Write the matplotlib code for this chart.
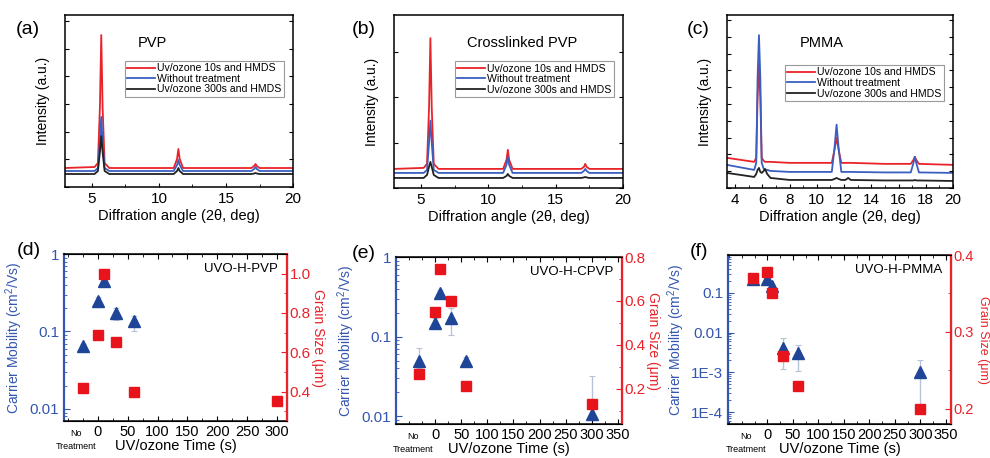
import matplotlib
matplotlib.use('Agg')
import matplotlib.pyplot as plt
from matplotlib.ticker import MultipleLocator, FixedLocator, FixedFormatter, NullFormatter, LogLocator
import numpy as np

plt.rcParams['font.family'] = ['Liberation Sans', 'DejaVu Sans']
plt.rcParams['mathtext.fontset'] = 'custom'
plt.rcParams['mathtext.rm'] = 'Liberation Sans'

# ---- XRD spectra (a.u.) ----
xrd_labels = ['Uv/ozone 10s and HMDS', 'Without treatment', 'Uv/ozone 300s and HMDS']
xrd_colors = ['#e8232a', '#3a5fc0', '#222222']

x_ab = [3, 5.2, 5.45, 5.6, 5.7, 5.8, 5.95, 6.3, 11.1, 11.35, 11.45, 11.55, 11.8,
        16.9, 17.1, 17.2, 17.3, 17.5, 20]
pvp_red = [19, 20, 24, 80, 152, 80, 24, 19, 19, 28, 38, 28, 19, 19, 21, 23, 21, 19, 19]
pvp_blue = [16, 16, 19, 45, 70, 45, 19, 16, 16, 22, 27, 22, 16, 16, 18, 20, 18, 16, 16]
pvp_black = [13, 13, 16, 35, 51, 35, 16, 13, 13, 16, 19, 16, 13, 13, 13.5, 14, 13.5, 13, 13]

cpvp_red = [19, 20, 24, 80, 149, 80, 24, 19, 19, 28, 38, 28, 19, 19, 21, 24, 21, 19, 19]
cpvp_blue = [15, 15, 18, 45, 67, 45, 18, 15, 15, 23, 31, 23, 15, 15, 17, 19, 17, 15, 15]
cpvp_black = [10, 10, 13, 21, 26, 21, 13, 10, 10, 12, 14, 12, 10, 10, 10.5, 11, 10.5, 10, 10]

x_c = [3.4, 5.4, 5.55, 5.65, 5.75, 5.85, 5.95, 6.1, 6.2, 6.35, 6.6, 8, 11.1, 11.3, 11.45,
       11.6, 11.8, 12.1, 12.3, 12.5, 15, 16.9, 17.1, 17.2, 17.3, 17.5, 20]
pmma_red = [30, 26, 30, 90, 123, 90, 30, 27, 26, 26, 26, 25, 25, 38, 50, 38, 25, 25, 25, 25,
            24, 24, 28, 31, 28, 24, 23]
pmma_blue = [23, 18, 25, 110, 152, 110, 25, 19, 18, 18, 17, 16, 16, 40, 63, 40, 16, 16, 16, 16,
             15.5, 15.5, 25, 31, 25, 15.5, 15]
pmma_black = [15, 11, 14, 18, 20, 16, 15, 17, 19, 14, 10, 8, 8, 9, 10, 9, 8, 8, 10, 8,
              7.5, 7.5, 7.5, 8, 7.5, 7.5, 7]

# ---- carrier mobility / grain size vs UV-ozone time ----
# "No Treatment" is drawn left of 0
t_d = [-25, 0, 10, 30, 60]
mob_d = [0.065, 0.25, 0.45, 0.175, 0.135]
mob_d_lo = [0.06, 0.22, 0.40, 0.14, 0.10]
mob_d_hi = [0.07, 0.28, 0.50, 0.20, 0.16]
gt_d = [-25, 0, 10, 30, 60, 300]
grain_d = [0.42, 0.69, 1.0, 0.65, 0.40, 0.35]

t_e = [-30, 0, 10, 30, 60, 300]
mob_e = [0.05, 0.15, 0.355, 0.17, 0.05, 0.0108]
mob_e_lo = [0.04, 0.13, 0.32, 0.105, 0.043, 0.009]
mob_e_hi = [0.072, 0.17, 0.39, 0.23, 0.055, 0.032]
gt_e = [-30, 0, 10, 30, 60, 300]
grain_e = [0.268, 0.55, 0.745, 0.60, 0.214, 0.13]

t_f = [-29, 0, 10, 30, 60, 300]
mob_f = [0.22, 0.22, 0.15, 0.004, 0.003, 0.001]
mob_f_lo = [0.17, 0.2, 0.12, 0.0012, 0.0011, 0.00015]
mob_f_hi = [0.28, 0.25, 0.17, 0.0075, 0.005, 0.002]
gt_f = [-29, 0, 10, 30, 60, 300]
grain_f = [0.37, 0.378, 0.35, 0.268, 0.23, 0.20]

BLUE_TXT = '#3556b0'
RED_TXT = '#e8232a'
TRI = '#1f4597'
SQ = '#e8141c'

fig = plt.figure(figsize=(9.9, 4.58), dpi=100)


def xrd_panel(rect, x, curves, letter, letter_x, title, xlim, xmaj, ystep, leg_top):
    ax = fig.add_axes(rect)
    for y, c, lab in zip(curves, xrd_colors, xrd_labels):
        ax.plot(x, y, color=c, lw=1.3, label=lab)
    ax.set_xlim(*xlim)
    ax.set_ylim(0, 172)
    ax.xaxis.set_major_locator(MultipleLocator(xmaj))
    ax.xaxis.set_minor_locator(MultipleLocator(xmaj / 2))
    ax.yaxis.set_major_locator(MultipleLocator(ystep))
    ax.yaxis.set_major_formatter(NullFormatter())
    ax.tick_params(axis='both', which='both', direction='in', labelsize=11)
    ax.tick_params(axis='y', which='both', left=True, right=True, length=3)
    ax.tick_params(axis='x', which='major', length=3)
    ax.tick_params(axis='x', which='minor', length=2)
    ax.set_xlabel('Diffration angle (2θ, deg)', fontsize=10.5, labelpad=2)
    ax.set_ylabel('Intensity (a.u.)', fontsize=10, labelpad=7)
    ax.text(letter_x, 0.965, letter, transform=ax.transAxes, fontsize=14, va='top', ha='left')
    ax.text(0.32, 0.84, title, transform=ax.transAxes, fontsize=10.5, va='center', ha='left')
    leg = ax.legend(loc='upper right', bbox_to_anchor=(0.96, leg_top), fontsize=7.6,
                    frameon=True, fancybox=False, edgecolor='#999999', framealpha=1,
                    handlelength=2.6, handletextpad=0.2, labelspacing=0.05,
                    borderpad=0.25, borderaxespad=0)
    leg.get_frame().set_linewidth(0.8)
    for s in ax.spines.values():
        s.set_linewidth(1.1)
    return ax


xrd_panel([0.0657, 0.5917, 0.2303, 0.3755], x_ab, [pvp_red, pvp_blue, pvp_black],
          '(a)', -0.215, 'PVP', (3, 20), 5, 27.7, 0.735)
xrd_panel([0.398, 0.5895, 0.2313, 0.3777], x_ab, [cpvp_red, cpvp_blue, cpvp_black],
          '(b)', -0.185, 'Crosslinked PVP', (3, 20), 5, 45, 0.735)
axc = xrd_panel([0.7343, 0.5895, 0.2283, 0.3777], x_c, [pmma_red, pmma_blue, pmma_black],
                '(c)', -0.18, 'PMMA', (3.4, 20), 2, 16.7, 0.712)
axc.xaxis.set_minor_locator(MultipleLocator(1))


def mob_panel(rect, t, mob, lo, hi, gt, grain, letter, letter_x, name, xlim, xticks,
              ylim, yticks, ylabels, y2lim, y2major, y2minor, y2fmt, nt_x,
              y2fs=10, y2tick=11, y2x=None):
    ax = fig.add_axes(rect)
    yerr = [np.array(mob) - np.array(lo), np.array(hi) - np.array(mob)]
    ax.errorbar(t, mob, yerr=yerr, fmt='none', ecolor='#b8c2d8', elinewidth=1.0,
                capsize=2, capthick=0.8, zorder=1)
    ax.plot(t, mob, '^', color=TRI, ms=9, mec=TRI, zorder=3)
    ax.set_yscale('log')
    ax.set_xlim(*xlim)
    ax.set_ylim(*ylim)
    ax.xaxis.set_major_locator(FixedLocator(xticks))
    ax.xaxis.set_minor_locator(MultipleLocator(25))
    ax.yaxis.set_major_locator(FixedLocator(yticks))
    ax.yaxis.set_major_formatter(FixedFormatter(ylabels))
    ax.yaxis.set_minor_locator(LogLocator(base=10, subs=np.arange(2, 10)))
    ax.yaxis.set_minor_formatter(NullFormatter())
    ax.tick_params(axis='both', which='both', direction='in', top=True, labelsize=11)
    ax.tick_params(axis='x', which='major', length=3.5, pad=3, labelsize=10.5)
    ax.tick_params(axis='x', which='minor', length=2)
    ax.tick_params(axis='y', which='major', length=4, colors=BLUE_TXT)
    ax.tick_params(axis='y', which='minor', length=2, colors=BLUE_TXT)
    ax.spines['left'].set_color(BLUE_TXT)
    ax.spines['left'].set_linewidth(1.6)
    ax.spines['top'].set_linewidth(1.1)
    ax.spines['bottom'].set_linewidth(1.1)
    ax.set_ylabel(r'Carrier Mobility (cm$^2$/Vs)', color=BLUE_TXT, fontsize=10, labelpad=3)
    ax.set_xlabel('UV/ozone Time (s)', fontsize=10.5, labelpad=0)
    xt = ax.get_xaxis_transform()
    ax.text(nt_x, -0.045, 'No', transform=xt, ha='center', va='top', fontsize=6.5)
    ax.text(nt_x, -0.125, 'Treatment', transform=xt, ha='center', va='top', fontsize=6.5)
    ax.text(0.96, 0.91, name, transform=ax.transAxes, ha='right', va='center', fontsize=9.5)
    ax.text(letter_x, 1.07, letter, transform=ax.transAxes, fontsize=14, va='top', ha='left')

    ax2 = ax.twinx()
    ax2.plot(gt, grain, 's', color=SQ, ms=6.5, mec=SQ, zorder=4)
    ax2.set_ylim(*y2lim)
    ax2.yaxis.set_major_locator(MultipleLocator(y2major))
    ax2.yaxis.set_minor_locator(MultipleLocator(y2minor))
    ax2.yaxis.set_major_formatter(plt.FormatStrFormatter(y2fmt))
    ax2.tick_params(axis='y', which='both', direction='in', colors=RED_TXT, labelsize=y2tick)
    ax2.tick_params(axis='y', which='major', length=4, pad=2)
    ax2.tick_params(axis='y', which='minor', length=2)
    ax2.spines['right'].set_color(RED_TXT)
    ax2.spines['right'].set_linewidth(1.6)
    ax2.spines['left'].set_visible(False)
    if y2x is None:
        ax2.set_ylabel('Grain Size (μm)', color=RED_TXT, fontsize=y2fs, rotation=270,
                       labelpad=10)
    else:
        ax2.set_ylabel('Grain Size (μm)', color=RED_TXT, fontsize=y2fs, rotation=270,
                       ha='center', va='center')
        ax2.yaxis.set_label_coords(y2x, 0.5)
    return ax, ax2


mob_panel([0.0646, 0.0808, 0.2253, 0.3646], t_d, mob_d, mob_d_lo, mob_d_hi, gt_d, grain_d,
          '(d)', -0.21, 'UVO-H-PVP', (-57, 317), [0, 50, 100, 150, 200, 250, 300],
          (0.007, 1), [0.01, 0.1, 1], ['0.01', '0.1', '1'],
          (0.25, 1.1), 0.2, 0.1, '%.1f', -36)
mob_panel([0.4, 0.0742, 0.2283, 0.3646], t_e, mob_e, mob_e_lo, mob_e_hi, gt_e, grain_e,
          '(e)', -0.195, 'UVO-H-CPVP', (-75, 358), [0, 50, 100, 150, 200, 250, 300, 350],
          (0.008, 1), [0.01, 0.1, 1], ['0.01', '0.1', '1'],
          (0.04, 0.8), 0.2, 0.1, '%.1f', -42)
mob_panel([0.7354, 0.0742, 0.2253, 0.369], t_f, mob_f, mob_f_lo, mob_f_hi, gt_f, grain_f,
          '(f)', -0.17, 'UVO-H-PMMA', (-77, 360), [0, 50, 100, 150, 200, 250, 300, 350],
          (5e-5, 0.9), [1e-4, 1e-3, 0.01, 0.1], ['1E-4', '1E-3', '0.01', '0.1'],
          (0.18, 0.4), 0.1, 0.05, '%.1f', -42, y2fs=9, y2tick=10.5, y2x=1.145)

fig.savefig('out.png', dpi=100)
